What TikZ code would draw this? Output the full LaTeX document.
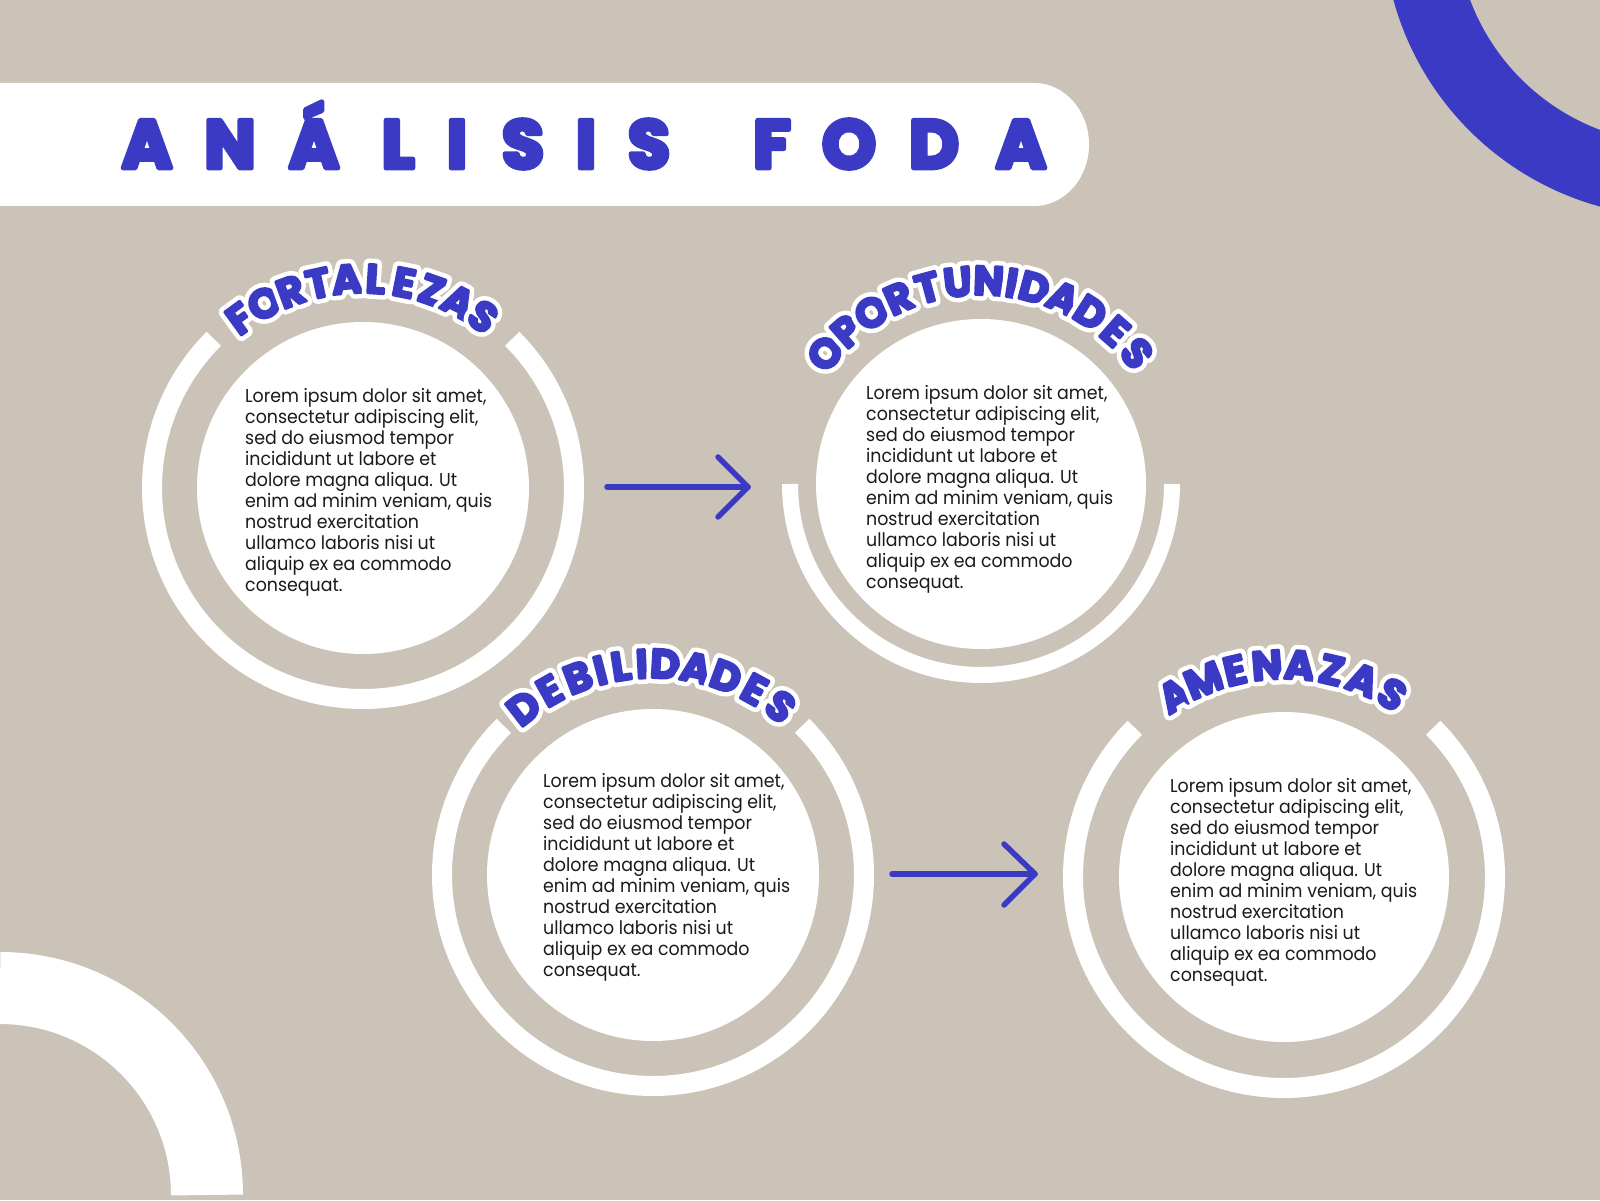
\documentclass[tikz,border=0pt]{standalone}
\usepackage{fontspec}
\usetikzlibrary{calc}
\newfontfamily\titlefont{Poppins}
\newfontfamily\bodyfont{Poppins}[FakeStretch=0.935]
\definecolor{paper}{HTML}{CBC3B8}
\definecolor{fodablue}{HTML}{3B3AC4}
\definecolor{bodyink}{HTML}{1A1A1A}
\newcommand\roundjoin{\special{pdf:literal direct 1 j}}
\newcommand\loremtext{\vtop{\baselineskip=21pt\lineskiplimit=-50pt\lineskip=0pt
\hbox{Lorem ipsum dolor sit amet,}
\hbox{consectetur adipiscing elit,}
\hbox{sed do eiusmod tempor}
\hbox{incididunt ut labore et}
\hbox{dolore magna aliqua. Ut}
\hbox{enim ad minim veniam, quis}
\hbox{nostrud exercitation}
\hbox{ullamco laboris nisi ut}
\hbox{aliquip ex ea commodo}
\hbox{consequat.}}}
\newcommand\arcword[4]{%
  \foreach \ang/\ch [count=\i] in {#4}{%
    \node[outlineshape, rotate=\ang-90] (#1-o\i) at ($(#2)+(\ang:#3)$) {\roundjoin\ch};
    \node[lettershape, rotate=\ang-90] (#1-\i) at ($(#2)+(\ang:#3)$) {\roundjoin\ch};
  }}
\begin{document}
\begin{tikzpicture}[x=1pt,y=1pt,
  titleletter/.style={font=\titlefont\bfseries\addfontfeatures{FakeBold=7}\fontsize{68}{68}\selectfont, text=fodablue, anchor=base, inner sep=0},
  lettershape/.style={font=\titlefont\bfseries\addfontfeatures{FakeBold=6}\fontsize{41}{41}\selectfont, text=fodablue, anchor=base, inner sep=0},
  outlineshape/.style={font=\titlefont\bfseries\addfontfeatures{FakeBold=28}\fontsize{41}{41}\selectfont, text=white, anchor=base, inner sep=0},
  innercircle/.style={circle, fill=white, inner sep=0},
  ring/.style={draw=white, line width=20pt},
  bodytext/.style={font=\bodyfont\fontsize{18.6}{21}\selectfont, text=bodyink, anchor=base west, inner sep=0},
  arr/.style={draw=fodablue, line width=5.5pt, line cap=round, line join=round}]
\useasboundingbox (0,0) rectangle (1600,1200);
\fill[paper] (0,0) rectangle (1600,1200);
% decorative arcs
\begin{scope}
\clip (0,0) rectangle (1600,1200);
\draw[fodablue, line width=73pt] (1678,1278) circle (258.5);
\end{scope}
\draw[white, line width=72pt] (207,5) arc (0:90:207);
% banner
\fill[white] (0,994) -- (1034,994) arc[start angle=-90, end angle=90, x radius=55, y radius=61.5] -- (0,1117) -- cycle;
\foreach \ch/\xx [count=\i] in {A/147,N/230,Á/314,L/398,I/457,S/523,I/586,S/649,F/772,O/849,D/934,A/1021}
  \node[titleletter] (t\i) at (\xx,1032) {\roundjoin\ch};
% centres
\coordinate (c1) at (363,712);
\coordinate (c2) at (981,716);
\coordinate (c3) at (653,325);
\coordinate (c4) at (1284,323);
% rings
\draw[ring] ($(c1)+(135:211)$) arc (135:405:211);
\draw[ring, line width=16pt] ($(c2)+(180:191)$) arc (180:360:191);
\draw[ring] ($(c3)+(135:211)$) arc (135:405:211);
\draw[ring] ($(c4)+(135:211)$) arc (135:405:211);
% inner circles
\node[innercircle, minimum size=332pt] (in1) at (c1) {};
\node[innercircle, minimum size=330pt] (in2) at (c2) {};
\node[innercircle, minimum size=332pt] (in3) at (c3) {};
\node[innercircle, minimum size=330pt] (in4) at (c4) {};
% body text
\node[bodytext] (txt1) at (245,797) {\loremtext};
\node[bodytext] (txt2) at (866,800) {\loremtext};
\node[bodytext] (txt3) at (543,412) {\loremtext};
\node[bodytext] (txt4) at (1170,407) {\loremtext};
% curved labels
\arcword{fo}{c1}{195}{126/F,118.11/O,110.22/R,102.33/T,94.44/A,86.56/L,78.67/E,70.78/Z,62.89/A,55/S}
\arcword{op}{c2}{189}{140/O,131.3/P,122.6/O,113.9/R,105.2/T,96.5/U,87.8/N,81.3/I,74.8/D,66.1/A,57.4/D,48.7/E,40/S}
\arcword{de}{c3}{197}{127.7/D,119.25/E,110.8/B,104.46/I,98.76/L,93.05/I,86.71/D,78.26/A,69.8/D,61.35/E,52.9/S}
\arcword{am}{c4}{198}{121/A,112.2/M,103.4/E,94.6/N,85.8/A,77/Z,68.2/A,59.4/S}
% arrows
\coordinate (a1s) at (607,713);
\coordinate (a1e) at (748,713);
\coordinate (a2s) at (892,326);
\coordinate (a2e) at (1035,326);
\draw[arr] (a1s) -- (a1e);
\draw[arr] ($(a1e)+(-30,30)$) -- (a1e) -- ($(a1e)+(-30,-30)$);
\draw[arr] (a2s) -- (a2e);
\draw[arr] ($(a2e)+(-31,30)$) -- (a2e) -- ($(a2e)+(-31,-31)$);
\end{tikzpicture}
\end{document}
